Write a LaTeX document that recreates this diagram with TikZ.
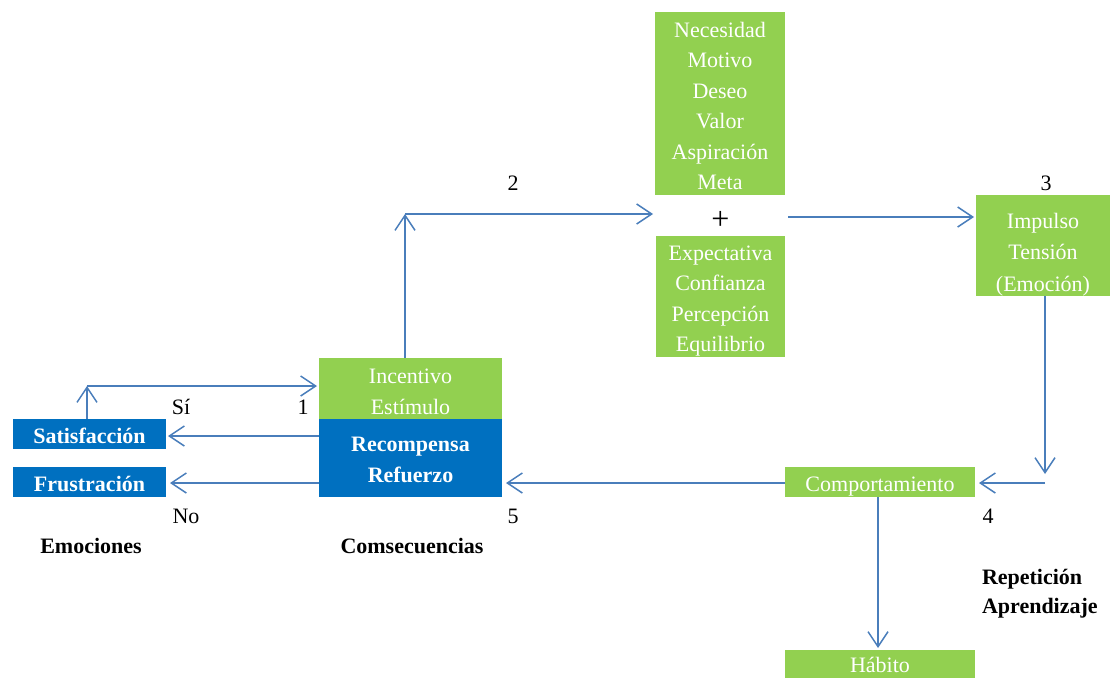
\documentclass[tikz,border=0pt]{standalone}
\usepackage{fontspec}
\setmainfont{Liberation Serif}
\usetikzlibrary{arrows.meta}
\definecolor{boxgreen}{HTML}{92D050}
\definecolor{boxblue}{HTML}{0070C0}
\definecolor{linkblue}{HTML}{4A7EBB}
\tikzset{
  % #1 lines of text, cap-height band centred and then lowered by #2
  lines/.style 2 args={text height={14.5pt+(#1-1)*30.5pt+2*(#2)}, text depth=0pt},
  greenbox/.style={fill=boxgreen, text=white, align=center, anchor=north west},
  bluebox/.style={fill=boxblue, text=white, align=center, anchor=north west,
    font=\fontsize{22}{30.5}\selectfont\bfseries},
  lbl/.style={text=black},
  heading/.style={text=black, font=\fontsize{22}{29}\selectfont\bfseries},
  link/.style={draw=linkblue, line width=1.5pt,
    -{Straight Barb[length=15pt,width=20pt,line width=1.5pt]}},
}
\begin{document}
\begin{tikzpicture}[x=1pt,y=-1pt,
  every node/.style={font=\fontsize{22}{30.5}\selectfont, inner sep=0pt, outer sep=0pt}]
\useasboundingbox (0,0) rectangle (1110,678);

% boxes
\node[greenbox, lines={6}{2.5}, minimum width=130, minimum height=183] (needs) at (655,12)
  {Necesidad\\Motivo\\Deseo\\Valor\\Aspiración\\Meta};
\node[lbl, font=\fontsize{32}{32}\selectfont] (plus) at (720.5,220.5) {+};
\node[greenbox, lines={4}{2}, minimum width=129, minimum height=121] (expect) at (656,236)
  {Expectativa\\Confianza\\Percepción\\Equilibrio};
\node[greenbox, text height=91.5pt, text depth=0pt, minimum width=134, minimum height=101,
  font=\fontsize{22}{31.5}\selectfont] (impulso) at (976,195)
  {Impulso\\Tensión\\(Emoción)};
\node[greenbox, lines={2}{3}, minimum width=183, minimum height=61] (incent) at (319,358)
  {Incentivo\\Estímulo};
\node[bluebox, lines={2}{1.5}, minimum width=183, minimum height=78] (recomp) at (319,419)
  {Recompensa\\Refuerzo};
\node[bluebox, lines={1}{1.8}, minimum width=153, minimum height=30] (sat) at (13,419) {Satisfacción};
\node[bluebox, lines={1}{2.5}, minimum width=153, minimum height=30] (frus) at (13,467) {Frustración};
\node[greenbox, lines={1}{1.8}, minimum width=190, minimum height=30] (comp) at (785,467) {Comportamiento};
\node[greenbox, lines={1}{1}, minimum width=190, minimum height=28] (habito) at (785,650) {Hábito};

% labels
\node[lbl] (n2) at (513,183) {2};
\node[lbl] (n3) at (1046,183) {3};
\node[lbl] (n1) at (303,407) {1};
\node[lbl] (si) at (181,407) {Sí};
\node[lbl] (no) at (186,516) {No};
\node[lbl] (n5) at (513,516) {5};
\node[lbl] (n4) at (988,516) {4};
\node[heading] (emo) at (91,546) {Emociones};
\node[heading] (cons) at (412,546) {Comsecuencias};
\node[heading, text height=43.5pt, text depth=0pt, anchor=west, align=left] (rep) at (982,592)
  {Repetición\\Aprendizaje};

% connectors
\coordinate (loop) at (87,386);
\coordinate (up2) at (405,214);
\coordinate (down4) at (1045,474);

\draw[link] (sat.north -| loop) -- (loop);
\draw[link, shorten >=2pt] (loop) -- (incent.west |- loop);
\draw[link] (incent.north -| up2) -- (up2);
\draw[link, shorten >=2pt] (up2) -- (needs.west |- up2);
\draw[link, shorten >=2pt] ([xshift=3pt]needs.east |- 0,217) -- (impulso.west |- 0,217);
\draw[link] (impulso.south -| down4) -- (down4);
\draw[link, shorten >=4pt] (down4 |- 0,483) -- (comp.east |- 0,483);
\draw[link, shorten >=4pt] (comp.west |- 0,483) -- (recomp.east |- 0,483);
\draw[link, shorten >=2pt] (comp.south -| 878,0) -- (habito.north -| 878,0);
\draw[link, shorten >=2pt] (recomp.west |- 0,436) -- (sat.east |- 0,436);
\draw[link, shorten >=4pt] (recomp.west |- 0,483) -- (frus.east |- 0,483);
\end{tikzpicture}
\end{document}
